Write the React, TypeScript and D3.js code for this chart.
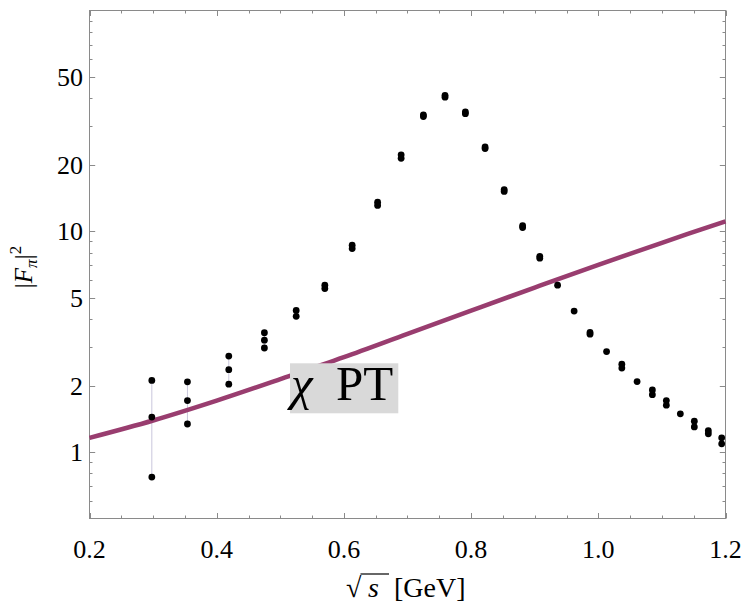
import { useEffect, useRef } from 'react';
import * as d3 from 'd3';

// chiPT curve
const curveX = [0.2, 0.3, 0.4, 0.5, 0.6, 0.7, 0.8, 0.9, 1.0, 1.1, 1.2];
const curveY = [1.16, 1.39, 1.71, 2.14, 2.69, 3.43, 4.37, 5.56, 7.05, 8.87, 11.1];

// data points (sqrt s, |F|^2)
const pointX = [
  0.298, 0.298, 0.298, 0.354, 0.354, 0.354, 0.419, 0.419, 0.419, 0.475, 0.475, 0.475,
  0.525, 0.525, 0.57, 0.57, 0.613, 0.613, 0.653, 0.653, 0.69, 0.69, 0.725, 0.725,
  0.759, 0.759, 0.791, 0.791, 0.822, 0.822, 0.852, 0.852, 0.881, 0.881, 0.908, 0.908,
  0.936, 0.962, 0.987, 0.987, 1.013, 1.037, 1.037, 1.061, 1.085, 1.085, 1.107, 1.107,
  1.129, 1.151, 1.151, 1.173, 1.173, 1.194, 1.194,
];
const pointY = [
  2.11, 1.44, 0.77, 2.08, 1.71, 1.34, 2.72, 2.36, 2.03, 3.47, 3.21, 2.96,
  4.38, 4.12, 5.7, 5.5, 8.65, 8.35, 13.55, 13.1, 22.2, 21.4, 33.7, 33.1,
  41.3, 40.5, 34.7, 34.1, 24.1, 23.7, 15.45, 15.15, 10.6, 10.4, 7.7, 7.55,
  5.7, 4.35, 3.48, 3.42, 2.85, 2.5, 2.4, 2.085, 1.91, 1.82, 1.71, 1.63,
  1.49, 1.38, 1.3, 1.25, 1.21, 1.16, 1.09,
];

// error bars on the low-energy points
const errX = [0.298, 0.354, 0.419, 0.475];
const errLo = [0.77, 1.34, 2.03, 2.96];
const errHi = [2.11, 2.08, 2.72, 3.47];

const xMajor = [0.2, 0.4, 0.6, 0.8, 1.0, 1.2];
const xMajorLabels = ['0.2', '0.4', '0.6', '0.8', '1.0', '1.2'];
const xMinor = [0.25, 0.3, 0.35, 0.45, 0.5, 0.55, 0.65, 0.7, 0.75, 0.85, 0.9, 0.95, 1.05, 1.1, 1.15];
const yMajor = [1, 2, 5, 10, 20, 50];
const yMajorLabels = ['1', '2', '5', '10', '20', '50'];
const yMinor = [0.6, 0.7, 0.8, 0.9, 3, 4, 6, 7, 8, 9, 30, 40, 60, 70, 80, 90];

const FONT = '"Liberation Serif", "Times New Roman", serif';
const FRAME = '#8a8a8a';

export default function App() {
  const svgRef = useRef<SVGSVGElement | null>(null);

  useEffect(() => {
    const W = 744;
    const H = 603;
    const left = 89.5;
    const right = 725.5;
    const top = 10.5;
    const bottom = 518.5;

    const svg = d3.select(svgRef.current).attr('width', W).attr('height', H);
    svg.selectAll('*').remove();

    const x = d3.scaleLinear().domain([0.2, 1.2]).range([left, right]);
    const y = d3.scaleLog().domain([0.5, 100]).range([bottom, top]);

    // frame
    svg
      .append('rect')
      .attr('x', left)
      .attr('y', top)
      .attr('width', right - left)
      .attr('height', bottom - top)
      .attr('fill', 'none')
      .attr('stroke', FRAME)
      .attr('stroke-width', 1);

    const ticks = svg.append('g').attr('stroke', FRAME).attr('stroke-width', 1);
    const tx = (v: number) => Math.round(x(v)) + 0.5;
    const ty = (v: number) => Math.round(y(v)) + 0.5;

    xMajor.forEach(v => {
      ticks.append('line').attr('x1', tx(v)).attr('x2', tx(v)).attr('y1', bottom).attr('y2', bottom - 5.5);
      ticks.append('line').attr('x1', tx(v)).attr('x2', tx(v)).attr('y1', top).attr('y2', top + 5.5);
    });
    xMinor.forEach(v => {
      ticks.append('line').attr('x1', tx(v)).attr('x2', tx(v)).attr('y1', bottom).attr('y2', bottom - 3);
      ticks.append('line').attr('x1', tx(v)).attr('x2', tx(v)).attr('y1', top).attr('y2', top + 3);
    });
    yMajor.forEach(v => {
      ticks.append('line').attr('y1', ty(v)).attr('y2', ty(v)).attr('x1', left).attr('x2', left + 5.7);
      ticks.append('line').attr('y1', ty(v)).attr('y2', ty(v)).attr('x1', right).attr('x2', right - 5.7);
    });
    yMinor.forEach(v => {
      ticks.append('line').attr('y1', ty(v)).attr('y2', ty(v)).attr('x1', left).attr('x2', left + 3);
      ticks.append('line').attr('y1', ty(v)).attr('y2', ty(v)).attr('x1', right).attr('x2', right - 3);
    });

    // tick labels
    const labels = svg.append('g').attr('font-family', FONT).attr('font-size', 26).attr('fill', '#000');
    xMajor.forEach((v, i) => {
      labels
        .append('text')
        .attr('x', x(v))
        .attr('y', 558)
        .attr('text-anchor', 'middle')
        .text(xMajorLabels[i]);
    });
    yMajor.forEach((v, i) => {
      labels
        .append('text')
        .attr('x', 83)
        .attr('y', y(v))
        .attr('dy', '0.35em')
        .attr('text-anchor', 'end')
        .text(yMajorLabels[i]);
    });

    // error bars
    svg
      .append('g')
      .selectAll('line')
      .data(errX)
      .join('line')
      .attr('x1', d => x(d))
      .attr('x2', d => x(d))
      .attr('y1', (_, i) => y(errLo[i]))
      .attr('y2', (_, i) => y(errHi[i]))
      .attr('stroke', '#c9c7dc')
      .attr('stroke-width', 1);

    // chiPT curve
    const line = d3
      .line<number>()
      .x((_, i) => x(curveX[i]))
      .y(d => y(d))
      .curve(d3.curveCatmullRom);
    svg
      .append('path')
      .attr('d', line(curveY))
      .attr('fill', 'none')
      .attr('stroke', '#993d6f')
      .attr('stroke-width', 4.5);

    // label box
    svg
      .append('rect')
      .attr('x', 290)
      .attr('y', 363.3)
      .attr('width', 108.3)
      .attr('height', 50)
      .attr('fill', '#d9d9d9');
    svg
      .append('text')
      .attr('x', 291)
      .attr('y', 400)
      .attr('font-family', FONT)
      .attr('font-size', 49)
      .attr('font-style', 'italic')
      .text('χ');
    svg
      .append('text')
      .attr('x', 336)
      .attr('y', 400)
      .attr('font-family', FONT)
      .attr('font-size', 49)
      .text('PT');

    // data points
    svg
      .append('g')
      .selectAll('circle')
      .data(pointX)
      .join('circle')
      .attr('cx', d => x(d))
      .attr('cy', (_, i) => y(pointY[i]))
      .attr('r', 3.4)
      .attr('fill', '#000');

    // axis titles
    const xt = svg.append('g').attr('font-family', FONT).attr('font-size', 28);
    const rad = xt.append('text').attr('x', 346).attr('y', 597).text('√');
    xt.append('text').attr('x', 368).attr('y', 597).attr('font-style', 'italic').text('s');
    xt.append('text').attr('x', 394).attr('y', 597).text('[GeV]');
    const rb = (rad.node() as SVGTextElement).getBBox();
    const barY = rb.y + 2;
    xt.append('line')
      .attr('x1', rb.x + rb.width - 1.5)
      .attr('x2', 389)
      .attr('y1', barY)
      .attr('y2', barY)
      .attr('stroke', '#000')
      .attr('stroke-width', 1.2);

    const yt = svg
      .append('text')
      .attr('transform', 'translate(31.5,267) rotate(-90)')
      .attr('text-anchor', 'middle')
      .attr('font-family', FONT)
      .attr('font-size', 25);
    yt.append('tspan').text('|');
    yt.append('tspan').attr('font-style', 'italic').text('F');
    yt.append('tspan').attr('font-style', 'italic').attr('font-size', 17).attr('dy', 5).text('π');
    yt.append('tspan').attr('dy', -5).text('|');
    yt.append('tspan').attr('font-size', 17).attr('dy', -11).text('2');
  }, []);

  return <svg ref={svgRef} style={{ position: 'absolute', left: 0, top: 0 }} />;
}
